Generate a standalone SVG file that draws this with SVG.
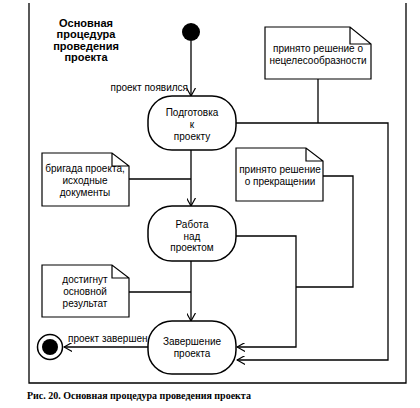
<svg xmlns="http://www.w3.org/2000/svg" width="420" height="408" viewBox="0 0 420 408">
<style>
.ln{fill:none;stroke:#000;stroke-width:1.3}
.act{fill:#fff;stroke:#000;stroke-width:1.5}
.note{fill:#fff;stroke:#000;stroke-width:1.2}
text{font-family:"Liberation Sans",Arial,sans-serif;font-size:10px;fill:#000}
.c{text-anchor:middle}
.title{font-weight:bold;font-size:11px}
.cap{font-family:"Liberation Serif","Times New Roman",serif;font-weight:bold;font-size:10px}
</style>
<defs>
<marker id="arr" viewBox="0 0 10 10" refX="9" refY="5" markerWidth="9" markerHeight="9" markerUnits="userSpaceOnUse" orient="auto">
<path d="M0,0 L9,5 L0,10" fill="none" stroke="#000" stroke-width="1.3"/>
</marker>
</defs>
<rect width="420" height="408" fill="#fff"/>
<path id="frame" d="M29,3 V383 H406 V3" fill="none" stroke="#000" stroke-width="1.3"/>
<g id="title">
<text class="title c" x="86" y="27">Основная</text>
<text class="title c" x="86" y="38">процедура</text>
<text class="title c" x="86" y="50">проведения</text>
<text class="title c" x="86" y="61">проекта</text>
</g>
<g id="connectors">
<line class="ln" x1="191" y1="41" x2="191" y2="96" marker-end="url(#arr)"/>
<line class="ln" x1="191" y1="150" x2="191" y2="206" marker-end="url(#arr)"/>
<line class="ln" x1="191" y1="261" x2="191" y2="321" marker-end="url(#arr)"/>
<line class="ln" x1="148" y1="347" x2="64" y2="347" marker-end="url(#arr)"/>
<path class="ln" d="M236,123 H388 V360 H237" marker-end="url(#arr)"/>
<line class="ln" x1="318" y1="79" x2="318" y2="123"/>
<path class="ln" d="M236,236 H296 V347 H237" marker-end="url(#arr)"/>
<path class="ln" d="M323,176 H353 V287 H296"/>
<line class="ln" x1="129" y1="179" x2="191" y2="179"/>
<line class="ln" x1="129" y1="292" x2="191" y2="292"/>
<text x="188" y="91" text-anchor="end">проект появился</text>
<text x="68" y="342">проект завершен</text>
</g>
<g id="start"><circle cx="191" cy="32" r="9" fill="#000"/></g>
<g id="end">
<circle cx="50" cy="347" r="12.5" fill="#fff" stroke="#000" stroke-width="1.5"/>
<circle cx="50" cy="347" r="8" fill="#000"/>
</g>
<g id="act1">
<rect class="act" x="148" y="96" width="88" height="54" rx="24" ry="24"/>
<text class="c" x="192" y="116">Подготовка</text>
<text class="c" x="192" y="128">к</text>
<text class="c" x="192" y="140">проекту</text>
</g>
<g id="act2">
<rect class="act" x="148" y="206" width="88" height="55" rx="24" ry="24"/>
<text class="c" x="192" y="228">Работа</text>
<text class="c" x="192" y="240">над</text>
<text class="c" x="192" y="251">проектом</text>
</g>
<g id="act3">
<rect class="act" x="148" y="321" width="88" height="53" rx="24" ry="24"/>
<text class="c" x="192" y="345">Завершение</text>
<text class="c" x="192" y="357">проекта</text>
</g>
<g id="note1">
<path class="note" d="M265,27 H350 L371,44 V79 H265 Z M350,27 V44 H371"/>
<text class="c" x="318" y="52">принято решение о</text>
<text class="c" x="318" y="64">нецелесообразности</text>
</g>
<g id="note2">
<path class="note" d="M42,153 H112 L129,166 V206 H42 Z M112,153 V166 H129"/>
<text class="c" x="85" y="172">бригада проекта,</text>
<text class="c" x="85" y="184">исходные</text>
<text class="c" x="85" y="196">документы</text>
</g>
<g id="note3">
<path class="note" d="M236,148 H306 L323,161 V201 H236 Z M306,148 V161 H323"/>
<text class="c" x="280" y="173">принято решение</text>
<text class="c" x="280" y="185">о прекращении</text>
</g>
<g id="note4">
<path class="note" d="M42,265 H112 L129,278 V317 H42 Z M112,265 V278 H129"/>
<text class="c" x="85" y="283">достигнут</text>
<text class="c" x="85" y="295">основной</text>
<text class="c" x="85" y="307">результат</text>
</g>
<text class="cap" x="27" y="399">Рис. 20. Основная процедура проведения проекта</text>
</svg>
